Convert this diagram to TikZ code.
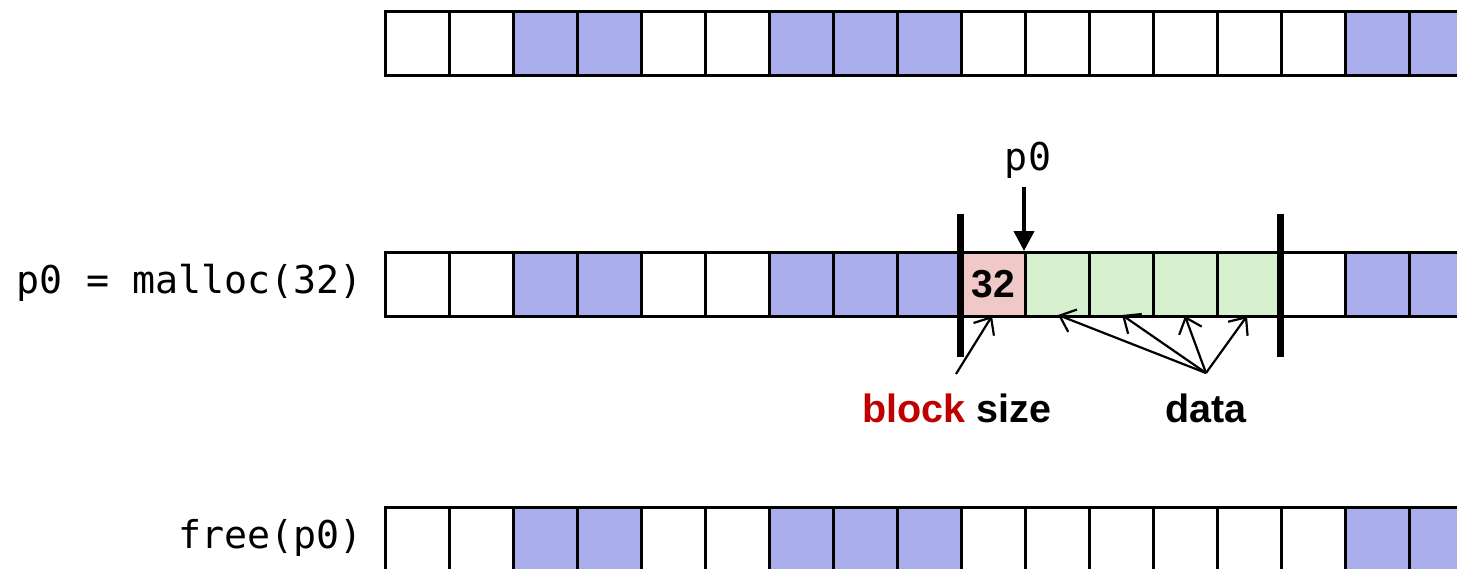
\documentclass[tikz,border=0pt]{standalone}
\usepackage{fontspec}
\setmainfont{Liberation Sans}
\setmonofont{DejaVu Sans Mono}
\usetikzlibrary{arrows.meta}
\definecolor{freeblue}{RGB}{171,174,236}
\definecolor{hdrpink}{RGB}{240,200,200}
\definecolor{datagreen}{RGB}{214,240,208}
\definecolor{redtxt}{RGB}{192,0,0}
\begin{document}
\begin{tikzpicture}[x=1pt,y=-1pt,
  cell/.style={draw=black,line width=2.5pt,minimum width=64pt,minimum height=64pt,inner sep=0pt,anchor=north west},
  codelbl/.style={font=\ttfamily\fontsize{38.3}{44}\selectfont,inner sep=0pt},
  sanslbl/.style={font=\bfseries\fontsize{39.5}{44}\selectfont,inner sep=0pt},
  bar/.style={line width=7pt},
  ptr/.style={line width=4pt,-{Triangle[length=20pt,width=20pt]}},
  note/.style={line width=2.2pt,-{Straight Barb[length=14pt,width=24pt,line width=2.2pt]}}]
\useasboundingbox (0,0) rectangle (1457,568);
\clip (0,0) rectangle (1457,568);
% top and bottom rows
\foreach \r/\y in {1/10,3/506}{
  \foreach \i/\c in {0/white,1/white,2/freeblue,3/freeblue,4/white,5/white,6/freeblue,7/freeblue,8/freeblue,9/white,10/white,11/white,12/white,13/white,14/white,15/freeblue,16/freeblue}{
    \node[cell,fill=\c] (r\r c\i) at ({384+64*\i},\y) {};
  }
}
% middle row
\foreach \i/\c in {0/white,1/white,2/freeblue,3/freeblue,4/white,5/white,6/freeblue,7/freeblue,8/freeblue,10/datagreen,11/datagreen,12/datagreen,13/datagreen,14/white,15/freeblue,16/freeblue}{
  \node[cell,fill=\c] (r2c\i) at ({384+64*\i},251) {};
}
\node[cell,fill=hdrpink,font=\bfseries\fontsize{39}{42}\selectfont] (r2c9) at (960,251) {32};
% block boundary bars
\coordinate (b1t) at (960,214); \coordinate (b1b) at (960,357);
\coordinate (b2t) at (1280,214); \coordinate (b2b) at (1280,357);
\draw[bar] (b1t) -- (b1b);
\draw[bar] (b2t) -- (b2b);
% labels
\node[codelbl,anchor=east] (lmalloc) at (363,283) {p0 = malloc(32)};
\node[codelbl,anchor=east] (lfree) at (363,538) {free(p0)};
\node[codelbl] (lp0) at (1028,160) {p0};
\coordinate (p0start) at (1024,187);
\draw[ptr] (p0start) -- (r2c10.north west);
% annotations
\node[sanslbl] (lbs) at (957,408) {\textcolor{redtxt}{block} size};
\node[sanslbl] (ldata) at (1206,408) {data};
\coordinate (bsfrom) at (956,374);
\coordinate (datafrom) at (1206,373);
\draw[note] (bsfrom) -- (992,316);
\draw[note] (datafrom) -- (1058,315);
\draw[note] (datafrom) -- (1122,315);
\draw[note] (datafrom) -- (1185,316);
\draw[note] (datafrom) -- (1247,316);
\end{tikzpicture}
\end{document}
